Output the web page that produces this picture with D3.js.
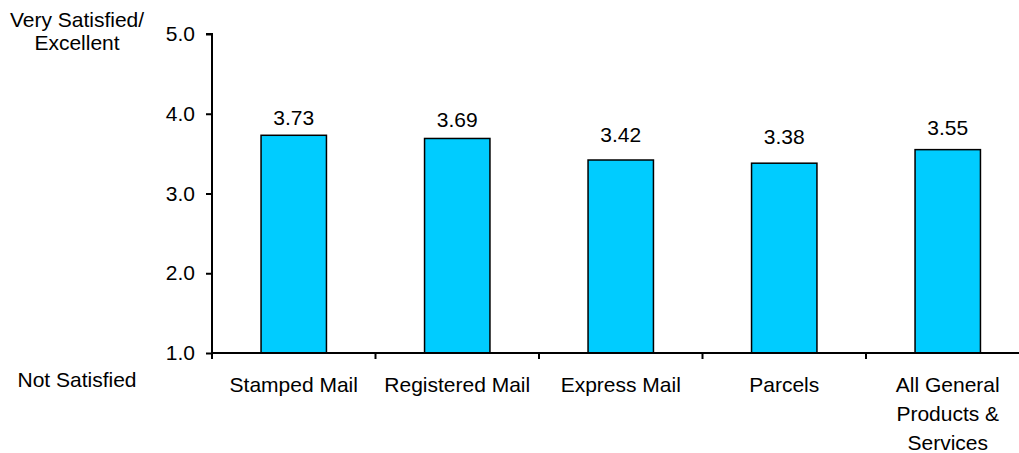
<!DOCTYPE html>
<html>
<head>
<meta charset="utf-8">
<script src="https://cdn.jsdelivr.net/npm/d3@7"></script>
<style>
  html, body { margin: 0; padding: 0; background: #fff; }
  svg { display: block; }
  text { font-family: Arial, "Liberation Sans", sans-serif; fill: #000; }
</style>
</head>
<body>
<svg id="chart" width="1019" height="453"></svg>
<script>
// Mean satisfaction score by product / service
const categories = ["Stamped Mail", "Registered Mail", "Express Mail", "Parcels", "All General Products & Services"];
const categoryLines = [["Stamped Mail"], ["Registered Mail"], ["Express Mail"], ["Parcels"], ["All General", "Products &", "Services"]];
const scores = [3.73, 3.69, 3.42, 3.38, 3.55];
const yTicks = [1, 2, 3, 4, 5];
const topLabel = ["Very Satisfied/", "Excellent"];
const bottomLabel = "Not Satisfied";

const svg = d3.select("#chart");
const fontSize = 21;

const x = d3.scaleBand().domain(categories).range([212, 1029.5]).padding(0);
const y = d3.scaleLinear().domain([1, 5]).range([353, 34]);
// value labels sit in a compressed band above the bars
const yLabel = d3.scaleLinear().domain([1, 5]).range([275.5, 55]);
const barW = x.bandwidth() * 0.4;

// Bars
svg.append("g").selectAll("rect")
  .data(categories)
  .join("rect")
  .attr("x", (d) => x(d) + x.bandwidth() / 2 - barW / 2)
  .attr("y", (d, i) => y(scores[i]))
  .attr("width", barW)
  .attr("height", (d, i) => y(1) - y(scores[i]))
  .attr("fill", "#00CCFF")
  .attr("stroke", "#000")
  .attr("stroke-width", 1.5);

// Value labels
svg.append("g").selectAll("text")
  .data(categories)
  .join("text")
  .attr("x", (d) => x(d) + x.bandwidth() / 2)
  .attr("y", (d, i) => yLabel(scores[i]))
  .attr("text-anchor", "middle")
  .attr("font-size", fontSize)
  .text((d, i) => scores[i].toFixed(2));

// Y axis
const yAxis = svg.append("g")
  .attr("transform", "translate(212,0)")
  .call(d3.axisLeft(y).tickValues(yTicks).tickFormat(d3.format(".1f")).tickSize(6).tickPadding(11));
yAxis.select(".domain").attr("stroke", "#000").attr("stroke-width", 2).attr("d", `M-6,${y(5)}H0V${y(1)}`);
yAxis.selectAll(".tick line").attr("stroke", "#000").attr("stroke-width", 2);
yAxis.selectAll(".tick text").attr("font-size", fontSize).attr("font-family", "Arial, 'Liberation Sans', sans-serif").attr("fill", "#000");

// X axis: baseline with ticks at band boundaries
const xAxis = svg.append("g");
xAxis.append("line")
  .attr("x1", 212).attr("x2", 1019)
  .attr("y1", y(1)).attr("y2", y(1))
  .attr("stroke", "#000").attr("stroke-width", 2);
const bounds = categories.map((c) => x(c)).concat([x.range()[1]]);
xAxis.selectAll("line.tick")
  .data(bounds)
  .join("line")
  .attr("class", "tick")
  .attr("x1", (d) => d).attr("x2", (d) => d)
  .attr("y1", y(1)).attr("y2", y(1) + 6)
  .attr("stroke", "#000").attr("stroke-width", 2);

// Category labels (wrapped)
const lineH = 29;
xAxis.selectAll("text.cat")
  .data(categories)
  .join("text")
  .attr("class", "cat")
  .attr("text-anchor", "middle")
  .attr("font-size", fontSize)
  .attr("x", (d) => x(d) + x.bandwidth() / 2)
  .attr("y", 392)
  .each(function (d, i) {
    const t = d3.select(this);
    categoryLines[i].forEach((ln, j) => {
      t.append("tspan")
        .attr("x", x(d) + x.bandwidth() / 2)
        .attr("dy", j === 0 ? 0 : lineH)
        .text(ln);
    });
  });

// Scale end annotations
svg.append("text")
  .attr("x", 77).attr("y", 27)
  .attr("text-anchor", "middle")
  .attr("font-size", fontSize)
  .selectAll("tspan")
  .data(topLabel)
  .join("tspan")
  .attr("x", 77)
  .attr("dy", (d, i) => (i === 0 ? 0 : 23))
  .text((d) => d);

svg.append("text")
  .attr("x", 77).attr("y", 387)
  .attr("text-anchor", "middle")
  .attr("font-size", fontSize)
  .text(bottomLabel);
</script>
</body>
</html>
